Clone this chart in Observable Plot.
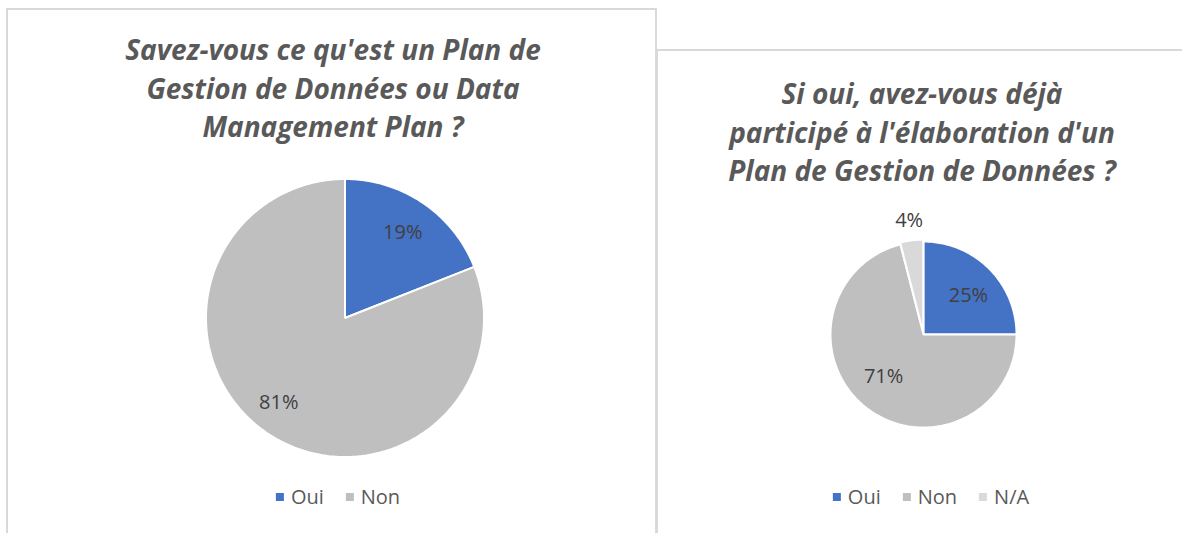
<!DOCTYPE html>
<html><head><meta charset="utf-8">
<script src="https://cdn.jsdelivr.net/npm/d3@7"></script>
<script src="https://cdn.jsdelivr.net/npm/@observablehq/plot@0.6"></script>
<style>
body{margin:0;background:#fff;}
#root{position:relative;width:1182px;height:533px;overflow:hidden;font-family:"Open Sans",sans-serif;}
.panel{position:absolute;border:2px solid #d9d9d9;box-sizing:border-box;background:#fff;}
.title{position:absolute;text-align:center;font-style:italic;font-weight:700;font-size:28px;color:#595959;line-height:38.5px;white-space:nowrap;transform:translateX(-50%);}
.legend{position:absolute;display:flex;align-items:center;transform:translateX(-50%);font-size:20px;color:#595959;white-space:nowrap;}
.legend .item{display:flex;align-items:center;margin:0 11px;}
.legend .sw{width:8px;height:8px;margin-right:7px;}
.chart{position:absolute;}
</style></head>
<body><div id="root"></div>
<script>
// ---- data ----
const cats1 = ["Oui", "Non"];
const values1 = [19, 81];
const colors1 = ["#4472c4", "#bfbfbf"];
const title1 = ["Savez-vous ce qu'est un Plan de", "Gestion de Données ou Data", "Management Plan ?"];

const cats2 = ["Oui", "Non", "N/A"];
const values2 = [25, 71, 4];
const colors2 = ["#4472c4", "#bfbfbf", "#d9d9d9"];
const title2 = ["Si oui, avez-vous déjà", "participé à l'élaboration d'un", "Plan de Gestion de Données ?"];
const labelRadius2 = [0.64, 0.62, 1.23];

const root = document.getElementById("root");

function panel(l, t, w, h) {
  const d = document.createElement("div");
  d.className = "panel";
  Object.assign(d.style, {left: l + "px", top: t + "px", width: w + "px", height: h + "px"});
  root.appendChild(d);
}
panel(6, 8, 651, 600);
panel(656, 49, 600, 600);

function title(lines, cx, top) {
  const d = document.createElement("div");
  d.className = "title";
  d.style.left = cx + "px";
  d.style.top = top + "px";
  d.innerHTML = lines.map(s => s.replace(/&/g, "&amp;")).join("<br>");
  root.appendChild(d);
}
title(title1, 333, 30);
title(title2, 922, 74);

function legend(cats, colors, cx, top) {
  const d = document.createElement("div");
  d.className = "legend";
  d.style.left = cx + "px";
  d.style.top = top + "px";
  cats.forEach((c, i) => {
    const it = document.createElement("div");
    it.className = "item";
    it.innerHTML = `<span class="sw" style="background:${colors[i]}"></span><span>${c}</span>`;
    d.appendChild(it);
  });
  root.appendChild(d);
}
legend(cats1, colors1, 338, 483);
legend(cats2, colors2, 931, 483);

function pie(cats, values, colors, cx, cy, r, labelR, labelShift, explode) {
  const total = d3.sum(values);
  const pts = [];
  const labels = [];
  let acc = 0;
  cats.forEach((c, i) => {
    const a0 = acc / total * 2 * Math.PI;
    acc += values[i];
    const a1 = acc / total * 2 * Math.PI;
    const mid = (a0 + a1) / 2;
    const ex = explode ? explode[i] : 0;
    const ox = ex * Math.sin(mid), oy = ex * Math.cos(mid);
    pts.push({cat: c, x: ox, y: oy});
    const n = Math.max(2, Math.ceil((a1 - a0) / (Math.PI / 180)));
    for (let k = 0; k <= n; k++) {
      const a = a0 + (a1 - a0) * k / n;
      pts.push({cat: c, x: ox + Math.sin(a), y: oy + Math.cos(a)});
    }
    const lr = labelR[i];
    const la = mid + (labelShift ? labelShift[i] : 0) * Math.PI / 180;
    labels.push({cat: c, x: lr * Math.sin(la), y: lr * Math.cos(la), text: values[i] + "%"});
  });
  const size = Math.round(r * 2.8);
  const half = size / 2 / r;
  const plot = Plot.plot({
    width: size, height: size,
    margin: 0,
    x: {domain: [-half, half], axis: null},
    y: {domain: [-half, half], axis: null},
    color: {domain: cats, range: colors},
    style: {background: "transparent", overflow: "visible"},
    marks: [
      Plot.line(pts, {x: "x", y: "y", z: "cat", fill: "cat", stroke: "white", strokeWidth: 2, curve: "linear-closed", strokeLinejoin: "miter"}),
      Plot.text(labels, {x: "x", y: "y", text: "text", fill: "#404040", fontSize: 20, fontFamily: "Open Sans"})
    ]
  });
  plot.classList.add("chart");
  plot.style.left = (cx - size / 2) + "px";
  plot.style.top = (cy - size / 2) + "px";
  root.appendChild(plot);
}
pie(cats1, values1, colors1, 344, 317, 139, [0.74, 0.77], [0, 4]);
pie(cats2, values2, colors2, 923, 334, 93, labelRadius2, [4, 6, 0], [0, 0, 0.02]);
</script>
</body></html>
